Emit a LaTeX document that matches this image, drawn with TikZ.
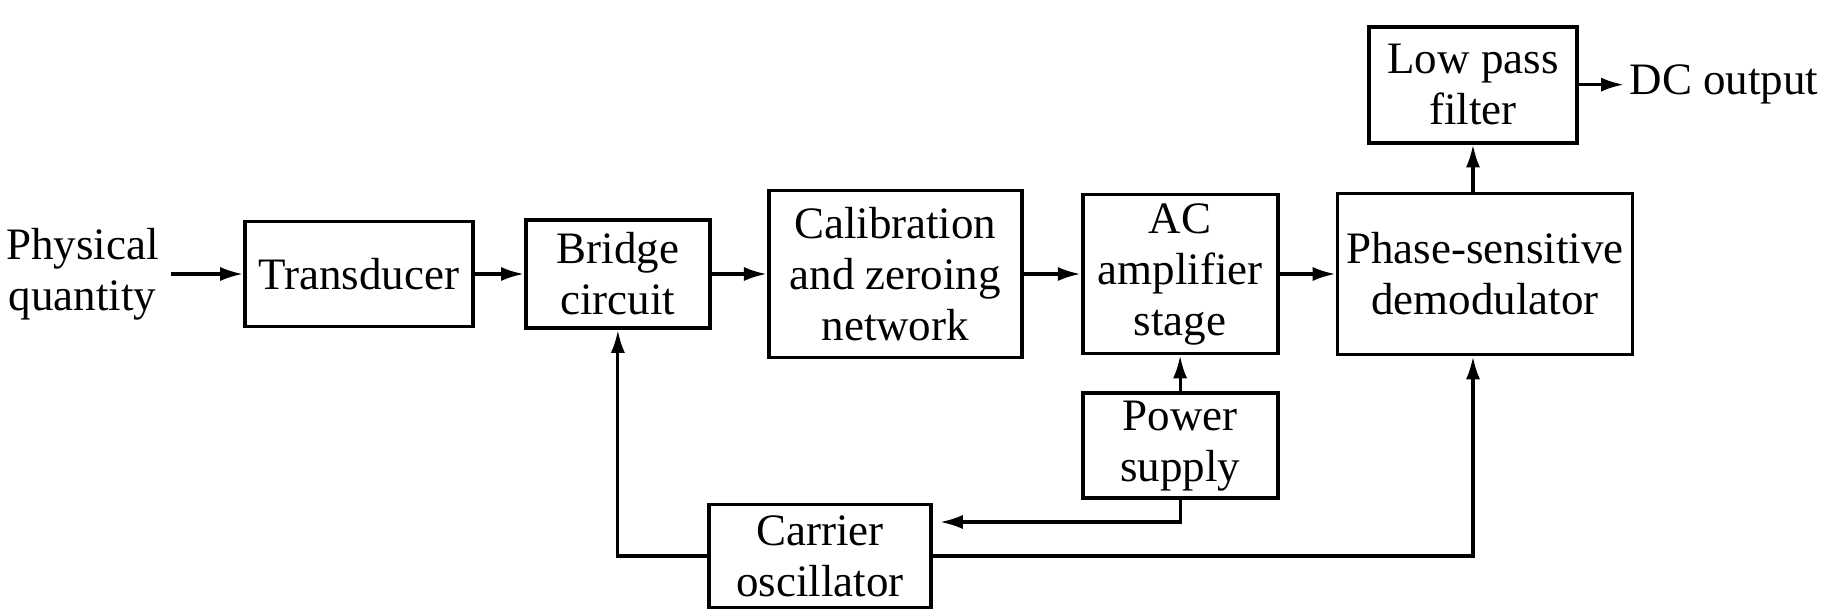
\documentclass[tikz,border=0pt]{standalone}
\usepackage{fontspec}
\setmainfont{Liberation Serif}
\usetikzlibrary{arrows.meta,positioning}

\begin{document}
\begin{tikzpicture}[
    font=\fontsize{12.8}{14.5}\selectfont,
    block/.style={rectangle, draw, line width=1.1pt, align=center, inner sep=2pt},
    arrow/.style={-{Latex[length=6.5pt,width=4pt]}, line width=0.9pt}
]
\useasboundingbox (0,0) rectangle (18.31,-6.12);

% main signal row
\node[block, minimum width=2.28cm, minimum height=1.05cm] (trans) at (3.59,-2.74) {Transducer};
\node[align=center, left=0.72cm of trans] (pq) {Physical\\quantity};
\node[block, right=0.49cm of trans, minimum width=1.84cm, minimum height=1.08cm] (bridge) {Bridge\\circuit};
\node[block, right=0.55cm of bridge, minimum width=2.53cm, minimum height=1.67cm] (cal) {Calibration\\and zeroing\\network};
\node[block, right=0.57cm of cal, minimum width=1.95cm, minimum height=1.59cm] (amp) {AC\\amplifier\\stage};
\node[block, right=0.56cm of amp, minimum width=2.95cm, minimum height=1.61cm] (psd) {Phase-sensitive\\demodulator};
\node[block, above=0.47cm of psd, xshift=-0.12cm, minimum width=2.08cm, minimum height=1.16cm] (lpf) {Low pass\\filter};
\node[right=0.45cm of lpf, inner sep=0.05cm] (dc) {DC output};

% supply and carrier
\node[block, below=0.36cm of amp, minimum width=1.95cm, minimum height=1.05cm] (psu) {Power\\supply};
\node[block, minimum width=2.22cm, minimum height=1.03cm] (osc) at (8.20,-5.56) {Carrier\\oscillator};

\draw[arrow] (pq) -- (trans);
\draw[arrow] (trans) -- (bridge);
\draw[arrow] (bridge) -- (cal);
\draw[arrow] (cal) -- (amp);
\draw[arrow] (amp) -- (psd);
\draw[arrow] (psd.north -| lpf.south) -- (lpf.south);
\draw[arrow] (lpf) -- (dc);
\draw[arrow] (psu) -- (amp);
\draw[arrow] (psu.south) |- ([yshift=0.34cm, xshift=0.07cm]osc.east);
\draw[arrow] (osc.west) -| (bridge.south);
\draw[arrow] (osc.east) -| ([xshift=-0.12cm]psd.south);

\end{tikzpicture}
\end{document}
